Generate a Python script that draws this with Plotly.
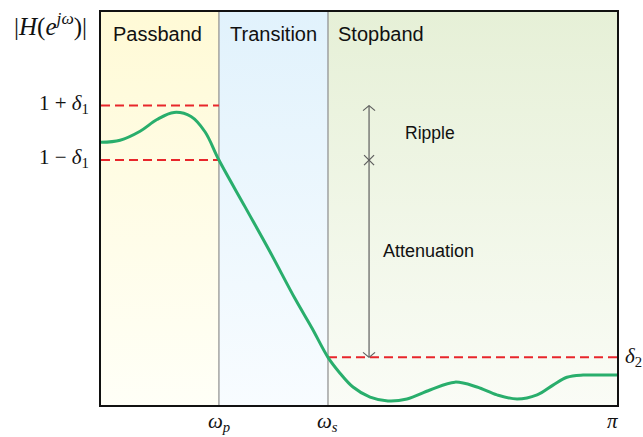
import numpy as np
import plotly.graph_objects as go

# Band edges (rad/sample) and tolerance levels of the lowpass specification
OMEGA_P = 0.718
OMEGA_S = 1.382
OMEGA_MAX = np.pi
DELTA_1 = 0.10
DELTA_2 = 0.175
Y_MAX = 1.444

# Sketched magnitude response |H(e^{jω})|
omega = [0.0, 0.116, 0.238, 0.341, 0.445, 0.548, 0.633, 0.718,
         0.877, 1.029, 1.181, 1.285, 1.382,
         1.455, 1.534, 1.638, 1.747, 1.863, 2.003, 2.155, 2.289, 2.411,
         2.533, 2.655, 2.752, 2.837, 2.935, 3.038, 3.1416]
magnitude = [0.965, 0.973, 1.006, 1.049, 1.075, 1.060, 1.004, 0.900,
             0.728, 0.563, 0.391, 0.282, 0.175,
             0.117, 0.066, 0.029, 0.015, 0.022, 0.055, 0.084, 0.066, 0.037,
             0.022, 0.037, 0.073, 0.102, 0.110, 0.110, 0.110]

# Frequency bands: name, start, end, gradient top colour, gradient bottom colour
band_names = ["Passband", "Transition", "Stopband"]
band_starts = [0.0, OMEGA_P, OMEGA_S]
band_ends = [OMEGA_P, OMEGA_S, OMEGA_MAX]
band_top_colors = ["#fffad6", "#e1f2fc", "#e6f0d7"]
band_bottom_colors = ["#fffff7", "#f8fcff", "#fafcf6"]

GREEN = "#29ae6c"
RED = "#e8262b"
GREY = "#8c8c8c"
ARROW = "#5e5e5e"
SERIF = "Liberation Serif, Times New Roman, serif"
SANS = "Liberation Sans, Arial, Helvetica, sans-serif"

fig = go.Figure()

# Shaded bands with a vertical fade to white
for x0, x1, top, bottom in zip(band_starts, band_ends, band_top_colors, band_bottom_colors):
    fig.add_trace(go.Scatter(
        x=[x0, x1, x1, x0, x0], y=[0, 0, Y_MAX, Y_MAX, 0],
        mode="lines", fill="toself", line=dict(width=0),
        fillgradient=dict(type="vertical", colorscale=[[0, bottom], [1, top]]),
        hoverinfo="skip", showlegend=False))

# Band boundaries
for edge in (OMEGA_P, OMEGA_S):
    fig.add_trace(go.Scatter(x=[edge, edge], y=[0, Y_MAX], mode="lines",
                             line=dict(color=GREY, width=1.2),
                             hoverinfo="skip", showlegend=False))

# Tolerance limits
for lvl in (1 + DELTA_1, 1 - DELTA_1):
    fig.add_trace(go.Scatter(x=[0, OMEGA_P], y=[lvl, lvl], mode="lines",
                             line=dict(color=RED, width=2, dash="9px,5px"),
                             hoverinfo="skip", showlegend=False))
fig.add_trace(go.Scatter(x=[OMEGA_S, OMEGA_MAX], y=[DELTA_2, DELTA_2], mode="lines",
                         line=dict(color=RED, width=2, dash="9px,5px"),
                         hoverinfo="skip", showlegend=False))

# Magnitude response
fig.add_trace(go.Scatter(x=omega, y=magnitude, mode="lines",
                         line=dict(color=GREEN, width=3, shape="spline", smoothing=1.0),
                         hoverinfo="skip", showlegend=False))

# Ripple / attenuation dimension line
ARROW_X = 1.632
shapes = [dict(type="line", xref="x", yref="y", x0=ARROW_X, x1=ARROW_X,
               y0=DELTA_2, y1=1 + DELTA_1, line=dict(color=ARROW, width=1.2))]


def pix_line(xa, ya, dx0, dy0, dx1, dy1):
    return dict(type="line", xref="x", yref="y", xsizemode="pixel", ysizemode="pixel",
                xanchor=xa, yanchor=ya, x0=dx0, y0=dy0, x1=dx1, y1=dy1,
                line=dict(color=ARROW, width=1.2))


# open arrowheads at both ends
shapes += [pix_line(ARROW_X, 1 + DELTA_1, -6, -5, 0, 0),
           pix_line(ARROW_X, 1 + DELTA_1, 6, -5, 0, 0),
           pix_line(ARROW_X, DELTA_2, -6, 5, 0, 0),
           pix_line(ARROW_X, DELTA_2, 6, 5, 0, 0)]
# cross tick at the lower passband limit
shapes += [pix_line(ARROW_X, 1 - DELTA_1, -5, -5, 5, 5),
           pix_line(ARROW_X, 1 - DELTA_1, -5, 5, 5, -5)]

annotations = []
# Band titles
band_label_x = [(band_starts[0] + band_ends[0]) / 2, (band_starts[1] + band_ends[1]) / 2, band_starts[2]]
band_label_anchor = ["center", "center", "left"]
band_label_shift = [-2, 0, 8]
for name, bx, anc, sh in zip(band_names, band_label_x, band_label_anchor, band_label_shift):
    annotations.append(dict(x=bx, y=1.364, xref="x", yref="y", text=name, showarrow=False,
                            xanchor=anc, yanchor="middle", xshift=sh,
                            font=dict(family=SANS, size=20, color="#111111")))

annotations += [
    dict(x=1.839, y=1.0, xref="x", yref="y", text="Ripple", showarrow=False,
         xanchor="left", yanchor="middle", font=dict(family=SANS, size=17.5, color="#111111")),
    dict(x=1.705, y=0.566, xref="x", yref="y", text="Attenuation", showarrow=False,
         xanchor="left", yanchor="middle", font=dict(family=SANS, size=18, color="#111111")),
]

# Axis labels
annotations += [
    dict(x=0, y=1, xref="paper", yref="paper", xanchor="right", yanchor="middle",
         xshift=-12, yshift=-12, showarrow=False,
         text="|<i>H</i>(<i>e</i><sup><i>jω</i></sup>)|",
         font=dict(family=SERIF, size=25, color="#111111")),
    dict(x=0, y=1 + DELTA_1, xref="paper", yref="y", xanchor="right", yanchor="middle",
         xshift=-10, yshift=2, showarrow=False, text="1 + <i>δ</i><sub>1</sub>",
         font=dict(family=SERIF, size=21, color="#111111")),
    dict(x=0, y=1 - DELTA_1, xref="paper", yref="y", xanchor="right", yanchor="middle",
         xshift=-10, yshift=2, showarrow=False, text="1 − <i>δ</i><sub>1</sub>",
         font=dict(family=SERIF, size=21, color="#111111")),
    dict(x=1, y=DELTA_2, xref="paper", yref="y", xanchor="left", yanchor="middle",
         xshift=6, showarrow=False, text="<i>δ</i><sub>2</sub>",
         font=dict(family=SERIF, size=21, color="#111111")),
    dict(x=OMEGA_P, y=0, xref="x", yref="paper", xanchor="center", yanchor="top",
         yshift=-2, showarrow=False, text="<i>ω</i><sub><i>p</i></sub>",
         font=dict(family=SERIF, size=21, color="#111111")),
    dict(x=OMEGA_S, y=0, xref="x", yref="paper", xanchor="center", yanchor="top",
         yshift=-2, showarrow=False, text="<i>ω</i><sub><i>s</i></sub>",
         font=dict(family=SERIF, size=21, color="#111111")),
    dict(x=OMEGA_MAX, y=0, xref="x", yref="paper", xanchor="center", yanchor="top",
         xshift=-5, yshift=-2, showarrow=False, text="<i>π</i>",
         font=dict(family=SERIF, size=21, color="#111111")),
]

axis_style = dict(showgrid=False, zeroline=False, showticklabels=False, ticks="",
                  showline=True, mirror=True, linecolor="#111111", linewidth=2)

fig.update_layout(
    width=643, height=437,
    margin=dict(l=101, r=26, t=10, b=32),
    paper_bgcolor="white", plot_bgcolor="white",
    xaxis=dict(range=[0, OMEGA_MAX], **axis_style),
    yaxis=dict(range=[0, Y_MAX], **axis_style),
    shapes=shapes, annotations=annotations, showlegend=False,
)

fig.write_html("out.html")
